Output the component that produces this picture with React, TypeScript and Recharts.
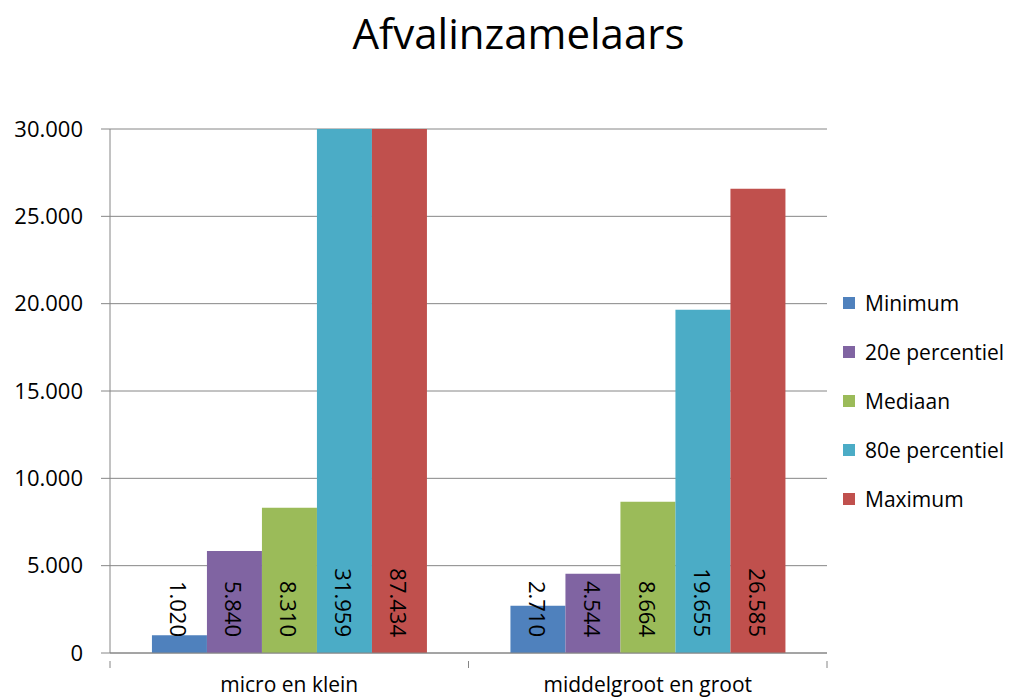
import { BarChart, Bar, XAxis, YAxis, CartesianGrid, LabelList } from 'recharts';

const categories = ['micro en klein', 'middelgroot en groot'];
const minimum = [1020, 2710];
const percentile20 = [5840, 4544];
const mediaan = [8310, 8664];
const percentile80 = [31959, 19655];
const maximum = [87434, 26585];
const yTicks = [0, 5000, 10000, 15000, 20000, 25000, 30000];

const seriesList = [
    { key: 'minimum', name: 'Minimum', color: '#4F81BD', values: minimum },
    { key: 'p20', name: '20e percentiel', color: '#8064A2', values: percentile20 },
    { key: 'mediaan', name: 'Mediaan', color: '#9BBB59', values: mediaan },
    { key: 'p80', name: '80e percentiel', color: '#4BACC6', values: percentile80 },
    { key: 'maximum', name: 'Maximum', color: '#C0504D', values: maximum },
];

const data = categories.map((cat, i) => {
    const row: Record<string, string | number> = { cat };
    seriesList.forEach((s) => { row[s.key] = s.values[i]; });
    return row;
});

const FONT = '"Open Sans", sans-serif';
const CHART_W = 1023;
const CHART_H = 699;
const Y_AXIS_W = 110;
const RIGHT = 196;
const plotWidth = CHART_W - Y_AXIS_W - RIGHT;
const halfBand = plotWidth / categories.length / 2;

const fmt = (v: number) => v.toLocaleString('nl-NL');

function XTick(props: any) {
    const { x, y, payload } = props;
    return (
        <g>
            <line x1={x - halfBand} y1={y} x2={x - halfBand} y2={y + 7} stroke="#868686" />
            <line x1={x + halfBand} y1={y} x2={x + halfBand} y2={y + 7} stroke="#868686" />
            <text x={x} y={y + 31} textAnchor="middle" fontSize={21} fill="#000" fontFamily={FONT}>
                {payload.value}
            </text>
        </g>
    );
}

function BarValue(props: any) {
    const { x, y, width, height, value } = props;
    const cx = x + width / 2;
    const bottom = y + height - 16;
    return (
        <text
            x={cx}
            y={bottom}
            transform={`rotate(90 ${cx} ${bottom})`}
            textAnchor="end"
            dominantBaseline="central"
            fontSize={22}
            fill="#000"
            fontFamily={FONT}
        >
            {fmt(value)}
        </text>
    );
}

function LegendBox() {
    return (
        <div style={{ position: 'absolute', left: 843, top: 278, fontFamily: FONT, fontSize: 21, color: '#000' }}>
            {seriesList.map((s) => (
                <div key={s.key} style={{ display: 'flex', alignItems: 'center', height: 49, whiteSpace: 'nowrap' }}>
                    <span style={{ width: 12, height: 12, background: s.color, marginRight: 10, display: 'inline-block' }} />
                    {s.name}
                </div>
            ))}
        </div>
    );
}

export default function App() {
    return (
        <div style={{ position: 'absolute', left: 0, top: 0, width: CHART_W, height: CHART_H, background: '#fff' }}>
            <div
                style={{
                    position: 'absolute', left: 0, top: 4, width: CHART_W + 14, textAlign: 'center',
                    fontFamily: FONT, fontSize: 42, color: '#000',
                }}
            >
                Afvalinzamelaars
            </div>
            <BarChart
                width={CHART_W}
                height={CHART_H}
                data={data}
                margin={{ top: 129, right: RIGHT, bottom: 0, left: 0 }}
                barCategoryGap="11.7%"
                barGap={0}
            >
                <CartesianGrid vertical={false} stroke="#868686" />
                <XAxis
                    dataKey="cat"
                    height={46}
                    axisLine={{ stroke: '#868686' }}
                    tickLine={false}
                    tick={<XTick />}
                    interval={0}
                />
                <YAxis
                    width={Y_AXIS_W}
                    domain={[0, 30000]}
                    ticks={yTicks}
                    allowDataOverflow
                    axisLine={{ stroke: '#868686' }}
                    tickLine={{ stroke: '#868686' }}
                    tickSize={9}
                    tickMargin={18}
                    tickFormatter={fmt}
                    tick={{ fontSize: 22, fill: '#000', fontFamily: FONT }}
                />
                {seriesList.map((s) => (
                    <Bar key={s.key} dataKey={s.key} name={s.name} fill={s.color} isAnimationActive={false}>
                        <LabelList dataKey={s.key} content={<BarValue />} />
                    </Bar>
                ))}
            </BarChart>
            <LegendBox />
        </div>
    );
}
